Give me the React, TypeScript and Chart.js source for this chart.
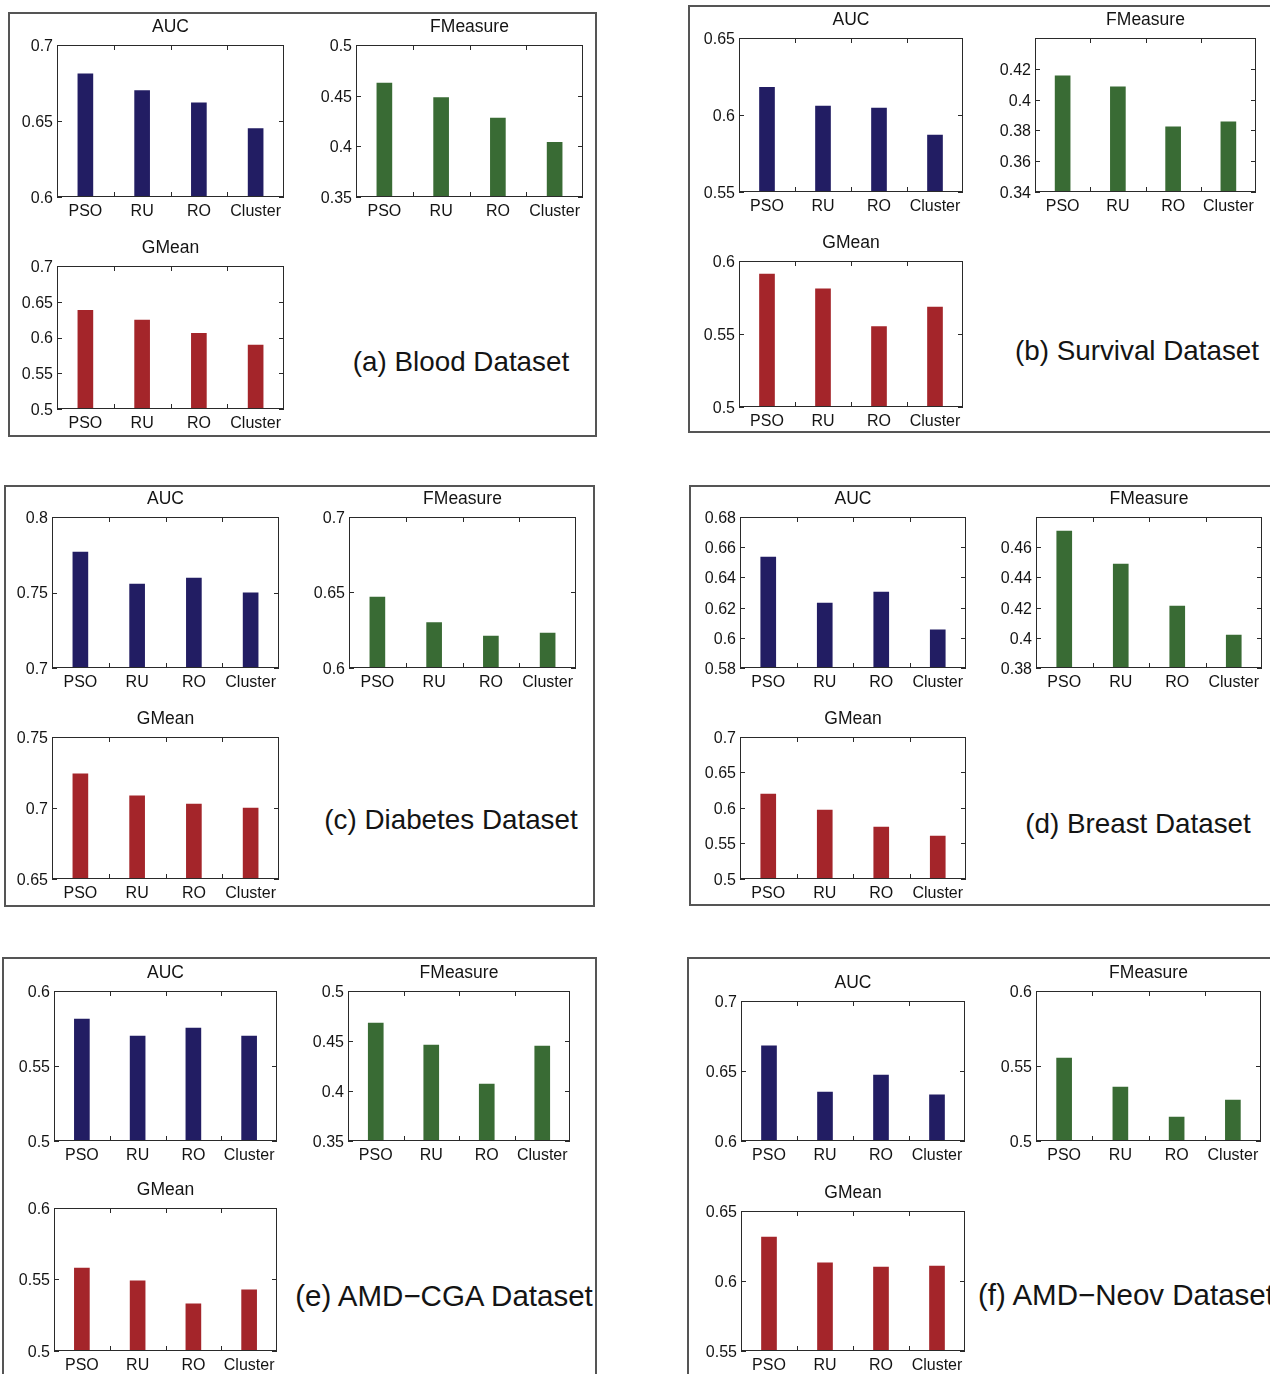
import React, { useEffect, useRef } from "react";
import { Chart, registerables } from "chart.js";

Chart.register(...registerables);

// ---------------- DATA ----------------
const categories = ["PSO", "RU", "RO", "Cluster"];

const bloodAUC = [0.681, 0.67, 0.662, 0.645];
const bloodFMeasure = [0.4625, 0.448, 0.428, 0.404];
const bloodGMean = [0.638, 0.6245, 0.606, 0.5895];

const survivalAUC = [0.618, 0.6058, 0.6045, 0.587];
const survivalFMeasure = [0.4154, 0.4083, 0.3823, 0.3855];
const survivalGMean = [0.591, 0.581, 0.555, 0.5685];

const diabetesAUC = [0.7768, 0.7556, 0.7596, 0.7497];
const diabetesFMeasure = [0.647, 0.63, 0.6212, 0.6232];
const diabetesGMean = [0.724, 0.7085, 0.7028, 0.7];

const breastAUC = [0.6535, 0.623, 0.6303, 0.6052];
const breastFMeasure = [0.4706, 0.4488, 0.421, 0.4018];
const breastGMean = [0.6197, 0.597, 0.5733, 0.5606];

const cgaAUC = [0.5813, 0.57, 0.5753, 0.57];
const cgaFMeasure = [0.468, 0.446, 0.407, 0.445];
const cgaGMean = [0.558, 0.549, 0.5329, 0.5427];

const neovAUC = [0.6679, 0.635, 0.6471, 0.6329];
const neovFMeasure = [0.5553, 0.536, 0.516, 0.5273];
const neovGMean = [0.6314, 0.6129, 0.61, 0.6107];

// tick label lists
const ticks060_070 = [0.6, 0.65, 0.7];
const ticks035_050 = [0.35, 0.4, 0.45, 0.5];
const ticks050_070 = [0.5, 0.55, 0.6, 0.65, 0.7];
const ticks055_065 = [0.55, 0.6, 0.65];
const ticks034_042 = [0.34, 0.36, 0.38, 0.4, 0.42];
const ticks050_060 = [0.5, 0.55, 0.6];
const ticks070_080 = [0.7, 0.75, 0.8];
const ticks065_075 = [0.65, 0.7, 0.75];
const ticks058_068 = [0.58, 0.6, 0.62, 0.64, 0.66, 0.68];
const ticks038_046 = [0.38, 0.4, 0.42, 0.44, 0.46];

const panelLabels = [
  "(a) Blood Dataset",
  "(b) Survival Dataset",
  "(c) Diabetes Dataset",
  "(d) Breast Dataset",
  "(e) AMD\u2212CGA Dataset",
  "(f) AMD\u2212Neov Dataset",
];

// ---------------- STYLE / LAYOUT ----------------
const FONT = '"Liberation Sans", Arial, Helvetica, sans-serif';
const NAVY = "#221d63";
const GREEN = "#396b34";
const RED = "#a4252a";
const TEXT = "#141414";

const Y_W = 50;
const TOP = 36;
const X_H = 28;
const R_PAD = 10;

type Sub = {
  title: string;
  values: number[];
  min: number;
  max: number;
  ticks: number[];
  color: string;
  rect: [number, number, number, number];
};

const framePlugin = {
  id: "matlabFrame",
  afterDraw(chart: any) {
    const { ctx, chartArea: a, scales } = chart;
    const x = scales.x;
    const y = scales.y;
    ctx.save();
    ctx.strokeStyle = "#2a2a2a";
    ctx.lineWidth = 1;
    const line = (x1: number, y1: number, x2: number, y2: number) => {
      ctx.beginPath();
      ctx.moveTo(x1, y1);
      ctx.lineTo(x2, y2);
      ctx.stroke();
    };
    ctx.strokeRect(a.left + 0.5, a.top + 0.5, a.right - a.left - 1, a.bottom - a.top - 1);
    y.ticks.forEach((t: any) => {
      const py = Math.round(y.getPixelForValue(t.value)) + 0.5;
      line(a.left, py, a.left + 5, py);
      line(a.right - 5, py, a.right, py);
    });
    const n = chart.data.labels.length;
    for (let i = 1; i < n; i++) {
      const px = Math.round((x.getPixelForValue(i - 1) + x.getPixelForValue(i)) / 2) + 0.5;
      line(px, a.bottom, px, a.bottom - 5);
      line(px, a.top, px, a.top + 5);
    }
    // subplot title centred over the plot area
    const title = chart.options.plugins.subTitleText;
    if (title) {
      ctx.fillStyle = TEXT;
      ctx.font = `17.5px ${FONT}`;
      ctx.textAlign = "center";
      ctx.textBaseline = "middle";
      ctx.fillText(title, (a.left + a.right) / 2, a.top - 18);
    }
    ctx.restore();
  },
};

function SubChart({ title, values, min, max, ticks, color, rect }: Sub) {
  const ref = useRef<HTMLCanvasElement>(null);
  const [l, t, r, b] = rect;
  const w = Y_W + (r - l) + R_PAD;
  const h = TOP + (b - t) + X_H;
  useEffect(() => {
    if (!ref.current) return;
    const chart = new Chart(ref.current, {
      type: "bar",
      data: {
        labels: categories,
        datasets: [
          {
            data: values,
            backgroundColor: color,
            borderWidth: 0,
            barThickness: 15,
          },
        ],
      },
      options: {
        responsive: false,
        animation: false,
        devicePixelRatio: 1,
        layout: { padding: { left: 0, right: R_PAD, top: TOP, bottom: 0 } },
        plugins: {
          legend: { display: false },
          tooltip: { enabled: false },
          title: { display: false },
          subTitleText: title,
        },
        scales: {
          x: {
            type: "category",
            offset: true,
            grid: { display: false, drawTicks: false },
            border: { display: false },
            ticks: {
              color: TEXT,
              font: { family: FONT, size: 16 },
              padding: 5,
              maxRotation: 0,
              autoSkip: false,
            },
            afterFit: (s: any) => {
              s.height = X_H;
            },
          },
          y: {
            type: "linear",
            min,
            max,
            grid: { display: false, drawTicks: false },
            border: { display: false },
            ticks: {
              color: TEXT,
              font: { family: FONT, size: 16 },
              padding: 4,
              labelOffset: 1.5,
              callback: (v: any) => String(+Number(v).toFixed(4)),
            },
            afterBuildTicks: (s: any) => {
              s.ticks = ticks.map((v) => ({ value: v }));
            },
            afterFit: (s: any) => {
              s.width = Y_W;
            },
          },
        },
      } as any,
      plugins: [framePlugin],
    });
    return () => chart.destroy();
  }, []);
  return (
    <canvas
      ref={ref}
      width={w}
      height={h}
      style={{ position: "absolute", left: l - Y_W, top: t - TOP, width: w, height: h }}
    />
  );
}

type Panel = {
  box: [number, number, number, number];
  label: string;
  labelPos: [number, number];
  labelAlign: "center" | "left";
  labelSize: number;
  subs: Sub[];
};

const panels: Panel[] = [
  {
    box: [8, 12, 597, 437],
    label: panelLabels[0],
    labelPos: [461, 362],
    labelAlign: "center",
    labelSize: 27.8,
    subs: [
      { title: "AUC", values: bloodAUC, min: 0.6, max: 0.7, ticks: ticks060_070, color: NAVY, rect: [57, 45, 284, 197] },
      { title: "FMeasure", values: bloodFMeasure, min: 0.35, max: 0.5, ticks: ticks035_050, color: GREEN, rect: [356, 45, 583, 197] },
      { title: "GMean", values: bloodGMean, min: 0.5, max: 0.7, ticks: ticks050_070, color: RED, rect: [57, 266, 284, 409] },
    ],
  },
  {
    box: [688, 5, 1280, 433],
    label: panelLabels[1],
    labelPos: [1137, 351],
    labelAlign: "center",
    labelSize: 27.8,
    subs: [
      { title: "AUC", values: survivalAUC, min: 0.55, max: 0.65, ticks: ticks055_065, color: NAVY, rect: [739, 38, 963, 192] },
      { title: "FMeasure", values: survivalFMeasure, min: 0.34, max: 0.44, ticks: ticks034_042, color: GREEN, rect: [1035, 38, 1256, 192] },
      { title: "GMean", values: survivalGMean, min: 0.5, max: 0.6, ticks: ticks050_060, color: RED, rect: [739, 261, 963, 407] },
    ],
  },
  {
    box: [4, 485, 595, 907],
    label: panelLabels[2],
    labelPos: [451, 820],
    labelAlign: "center",
    labelSize: 27.8,
    subs: [
      { title: "AUC", values: diabetesAUC, min: 0.7, max: 0.8, ticks: ticks070_080, color: NAVY, rect: [52, 517, 279, 668] },
      { title: "FMeasure", values: diabetesFMeasure, min: 0.6, max: 0.7, ticks: ticks060_070, color: GREEN, rect: [349, 517, 576, 668] },
      { title: "GMean", values: diabetesGMean, min: 0.65, max: 0.75, ticks: ticks065_075, color: RED, rect: [52, 737, 279, 879] },
    ],
  },
  {
    box: [689, 485, 1280, 906],
    label: panelLabels[3],
    labelPos: [1138, 824],
    labelAlign: "center",
    labelSize: 27.8,
    subs: [
      { title: "AUC", values: breastAUC, min: 0.58, max: 0.68, ticks: ticks058_068, color: NAVY, rect: [740, 517, 966, 668] },
      { title: "FMeasure", values: breastFMeasure, min: 0.38, max: 0.48, ticks: ticks038_046, color: GREEN, rect: [1036, 517, 1262, 668] },
      { title: "GMean", values: breastGMean, min: 0.5, max: 0.7, ticks: ticks050_070, color: RED, rect: [740, 737, 966, 879] },
    ],
  },
  {
    box: [2, 957, 597, 1390],
    label: panelLabels[4],
    labelPos: [444, 1296],
    labelAlign: "center",
    labelSize: 29.5,
    subs: [
      { title: "AUC", values: cgaAUC, min: 0.5, max: 0.6, ticks: ticks050_060, color: NAVY, rect: [54, 991, 277, 1141] },
      { title: "FMeasure", values: cgaFMeasure, min: 0.35, max: 0.5, ticks: ticks035_050, color: GREEN, rect: [348, 991, 570, 1141] },
      { title: "GMean", values: cgaGMean, min: 0.5, max: 0.6, ticks: ticks050_060, color: RED, rect: [54, 1208, 277, 1351] },
    ],
  },
  {
    box: [687, 957, 1280, 1390],
    label: panelLabels[5],
    labelPos: [978, 1295],
    labelAlign: "left",
    labelSize: 29.5,
    subs: [
      { title: "AUC", values: neovAUC, min: 0.6, max: 0.7, ticks: ticks060_070, color: NAVY, rect: [741, 1001, 965, 1141] },
      { title: "FMeasure", values: neovFMeasure, min: 0.5, max: 0.6, ticks: ticks050_060, color: GREEN, rect: [1036, 991, 1261, 1141] },
      { title: "GMean", values: neovGMean, min: 0.55, max: 0.65, ticks: ticks055_065, color: RED, rect: [741, 1211, 965, 1351] },
    ],
  },
];

export default function App() {
  return (
    <div
      style={{
        position: "absolute",
        left: 0,
        top: 0,
        width: 1270,
        height: 1374,
        overflow: "hidden",
        background: "#fff",
        fontFamily: FONT,
      }}
    >
      {panels.map((p, i) => (
        <React.Fragment key={i}>
          <div
            style={{
              position: "absolute",
              left: p.box[0],
              top: p.box[1],
              width: p.box[2] - p.box[0],
              height: p.box[3] - p.box[1],
              border: "2px solid #555",
              boxSizing: "border-box",
            }}
          />
          {p.subs.map((s, j) => (
            <SubChart key={j} {...s} />
          ))}
          <div
            style={{
              position: "absolute",
              left: p.labelPos[0],
              top: p.labelPos[1],
              transform: p.labelAlign === "center" ? "translate(-50%, -50%)" : "translate(0, -50%)",
              fontSize: p.labelSize,
              color: TEXT,
              whiteSpace: "nowrap",
              lineHeight: 1,
            }}
          >
            {p.label}
          </div>
        </React.Fragment>
      ))}
    </div>
  );
}
